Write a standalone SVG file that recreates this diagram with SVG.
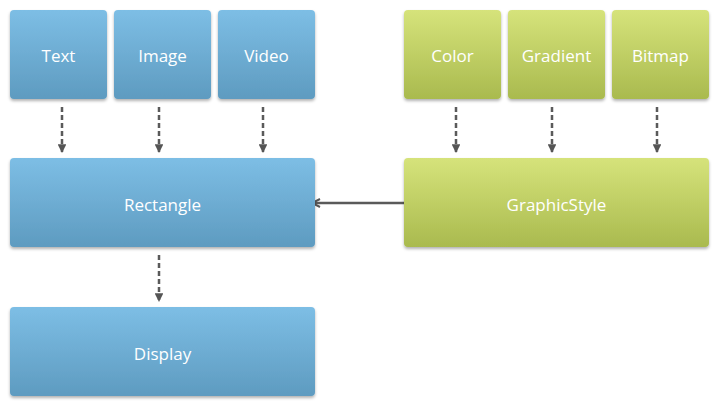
<svg xmlns="http://www.w3.org/2000/svg" width="722" height="410" viewBox="0 0 722 410">
<defs>
<linearGradient id="gb" x1="0" y1="0" x2="0" y2="1">
<stop offset="0" stop-color="#7dbee5"/>
<stop offset="1" stop-color="#5e9bc0"/>
</linearGradient>
<linearGradient id="gg" x1="0" y1="0" x2="0" y2="1">
<stop offset="0" stop-color="#d6e37b"/>
<stop offset="1" stop-color="#a9ba4e"/>
</linearGradient>
<filter id="sh" x="-10%" y="-10%" width="120%" height="130%">
<feDropShadow dx="0" dy="2" stdDeviation="1.5" flood-color="#000" flood-opacity="0.3"/>
</filter>
<marker id="ah" viewBox="0 0 10 10" refX="9" refY="5" markerWidth="3.5" markerHeight="3.5" orient="auto">
<path d="M0,0 L10,5 L0,10 Z" fill="#555"/>
</marker>
<marker id="ah2" viewBox="0 0 10 10" refX="8" refY="5" markerWidth="4" markerHeight="4" orient="auto">
<path d="M1,1 L9,5 L1,9" fill="none" stroke="#555" stroke-width="2"/>
</marker>
</defs>
<style>
.b{fill:url(#gb);filter:url(#sh)}
.g{fill:url(#gg);filter:url(#sh)}
text{font-family:"Open Sans","Liberation Sans",sans-serif;font-size:17px;fill:#fff;text-anchor:middle;dominant-baseline:central}
.d{stroke:#5a5a5a;stroke-width:2.5;stroke-dasharray:5,3;fill:none;marker-end:url(#ah)}
.s{stroke:#5a5a5a;stroke-width:2.5;fill:none;marker-end:url(#ah2)}
</style>
<g id="connectors">
<line class="d" x1="62" y1="107" x2="62" y2="152"/>
<line class="d" x1="159" y1="107" x2="159" y2="152"/>
<line class="d" x1="263" y1="107" x2="263" y2="152"/>
<line class="d" x1="456" y1="107" x2="456" y2="152"/>
<line class="d" x1="552" y1="107" x2="552" y2="152"/>
<line class="d" x1="657" y1="107" x2="657" y2="152"/>
<line class="d" x1="159" y1="255" x2="159" y2="301"/>
<line class="s" x1="404" y1="203" x2="313" y2="203"/>
</g>
<g id="text-node"><rect class="b" x="10" y="10" width="97" height="89" rx="4"/><text x="58.5" y="55">Text</text></g>
<g id="image-node"><rect class="b" x="114" y="10" width="97" height="89" rx="4"/><text x="162.5" y="55">Image</text></g>
<g id="video-node"><rect class="b" x="218" y="10" width="97" height="89" rx="4"/><text x="266.5" y="55">Video</text></g>
<g id="color-node"><rect class="g" x="404" y="10" width="97" height="89" rx="4"/><text x="452.5" y="55">Color</text></g>
<g id="gradient-node"><rect class="g" x="508" y="10" width="97" height="89" rx="4"/><text x="556.5" y="55">Gradient</text></g>
<g id="bitmap-node"><rect class="g" x="612" y="10" width="97" height="89" rx="4"/><text x="660.5" y="55">Bitmap</text></g>
<g id="rectangle-node"><rect class="b" x="10" y="158" width="305" height="89" rx="4"/><text x="162.5" y="204">Rectangle</text></g>
<g id="graphicstyle-node"><rect class="g" x="404" y="158" width="305" height="89" rx="4"/><text x="556.5" y="204">GraphicStyle</text></g>
<g id="display-node"><rect class="b" x="10" y="307" width="305" height="89" rx="4"/><text x="162.5" y="353">Display</text></g>
</svg>
